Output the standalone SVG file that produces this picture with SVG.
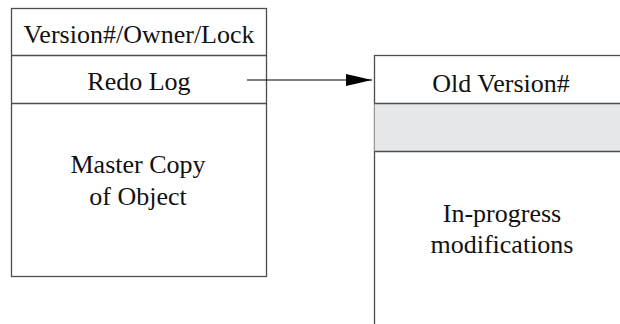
<svg xmlns="http://www.w3.org/2000/svg" width="620" height="324" viewBox="0 0 620 324">
<style>
.box{fill:#fff;stroke:#4d4d4d;stroke-width:1.3}
.ln{stroke:#4d4d4d;stroke-width:1.3;fill:none}
text{font-family:'Liberation Serif',serif;font-size:26px;fill:#111;text-anchor:middle}
</style>
<defs>
<marker id="ah" markerUnits="userSpaceOnUse" markerWidth="27" markerHeight="14" refX="26" refY="7" orient="auto">
<path d="M0,1 L26,7 L0,13 Z" fill="#000"/>
</marker>
</defs>
<g id="master">
<rect class="box" x="11.5" y="8.5" width="255" height="268"/>
<line class="ln" x1="11.5" y1="55.5" x2="266.5" y2="55.5"/>
<line class="ln" x1="11.5" y1="103.5" x2="266.5" y2="103.5"/>
<text x="139" y="43">Version#/Owner/Lock</text>
<text x="139" y="90">Redo Log</text>
<text x="138" y="173">Master Copy</text>
<text x="138" y="205">of Object</text>
</g>
<g id="copy">
<rect class="box" x="374.5" y="55.5" width="256" height="290"/>
<rect x="374.5" y="103.5" width="256" height="48" fill="#e6e7e8" stroke="none"/>
<line class="ln" x1="374.5" y1="103.5" x2="630" y2="103.5"/>
<line class="ln" x1="374.5" y1="151.5" x2="630" y2="151.5"/>
<text x="501" y="92">Old Version#</text>
<text x="502" y="222">In-progress</text>
<text x="502" y="253">modifications</text>
</g>
<g id="connectors">
<line x1="247" y1="80" x2="372" y2="80" stroke="#000" stroke-width="1.2" marker-end="url(#ah)"/>
</g>
</svg>
